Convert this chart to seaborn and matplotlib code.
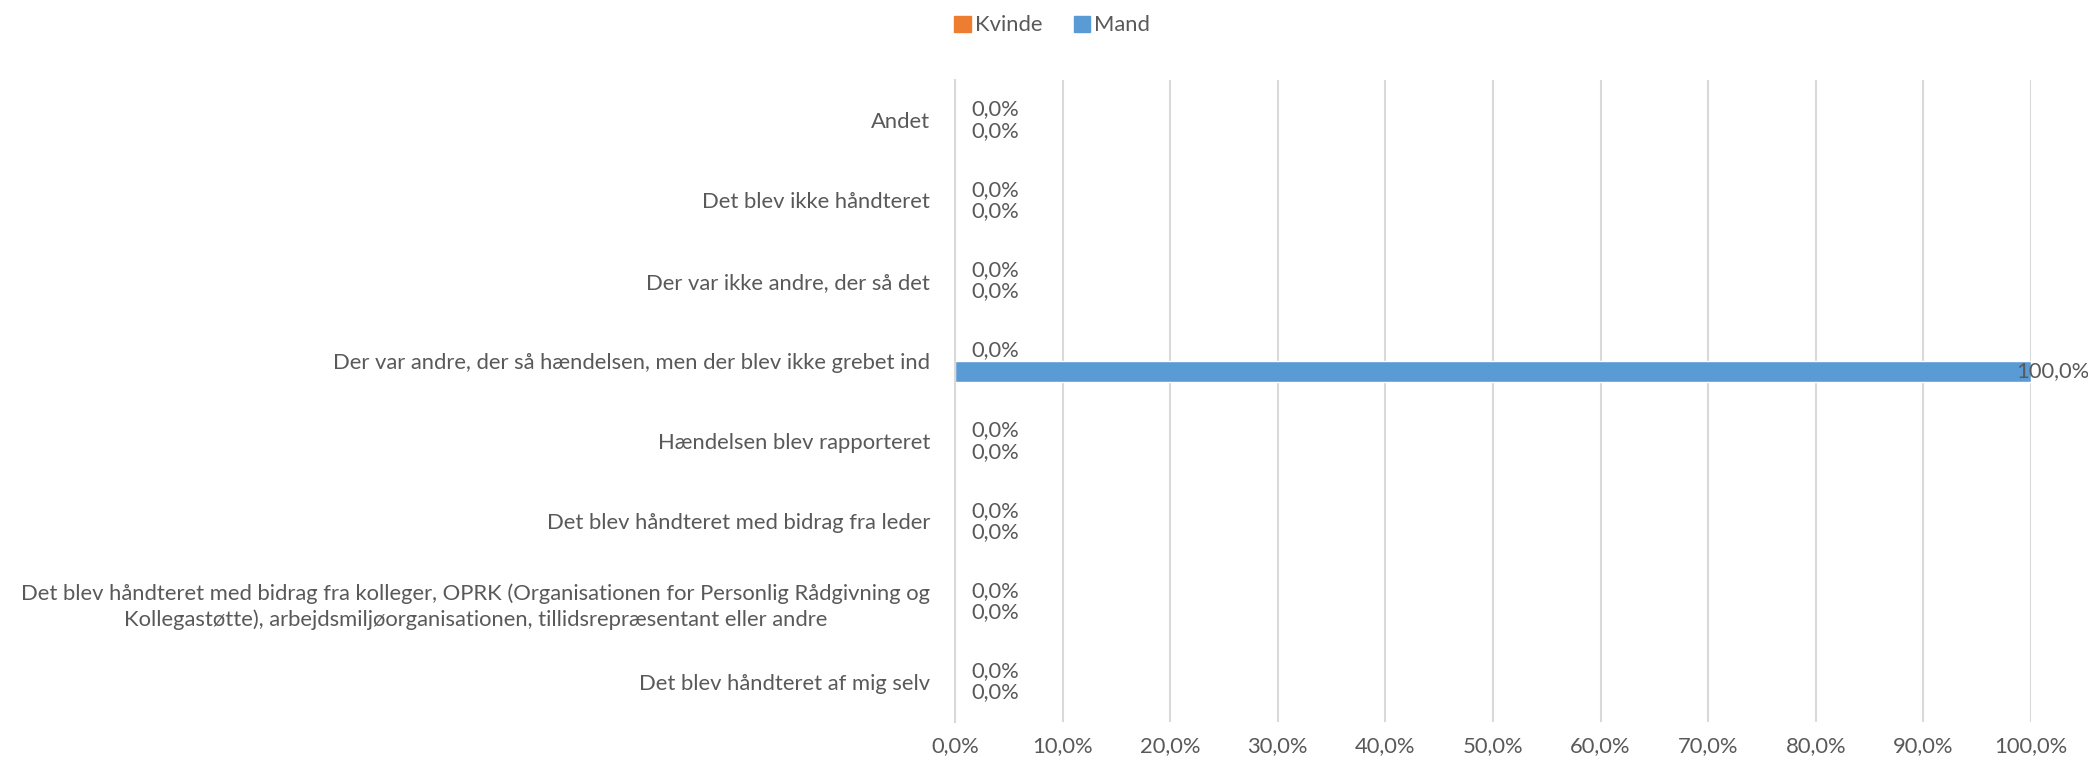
import matplotlib
matplotlib.use("Agg")
import matplotlib.pyplot as plt
import seaborn as sns
import pandas as pd

categories = [
    "Andet",
    "Det blev ikke håndteret",
    "Der var ikke andre, der så det",
    "Der var andre, der så hændelsen, men der blev ikke grebet ind",
    "Hændelsen blev rapporteret",
    "Det blev håndteret med bidrag fra leder",
    "Det blev håndteret med bidrag fra kolleger, OPRK (Organisationen for Personlig Rådgivning og\nKollegastøtte), arbejdsmiljøorganisationen, tillidsrepræsentant eller andre",
    "Det blev håndteret af mig selv",
]
kvinde = [0.0, 0.0, 0.0, 0.0, 0.0, 0.0, 0.0, 0.0]
mand = [0.0, 0.0, 0.0, 100.0, 0.0, 0.0, 0.0, 0.0]
series = ["Kvinde", "Mand"]
colors = ["#ED7D31", "#5B9BD5"]
xticks = [0, 10, 20, 30, 40, 50, 60, 70, 80, 90, 100]

df = pd.DataFrame({
    "Kategori": categories * 2,
    "Køn": ["Kvinde"] * len(categories) + ["Mand"] * len(categories),
    "Andel": kvinde + mand,
})

sns.set_theme(style="white")
plt.rcParams["font.family"] = ["Lato", "DejaVu Sans"]
text_color = "#595959"
fs = 15.8

fig = plt.figure(figsize=(20.88, 7.64), dpi=100)
ax = fig.add_axes([0.4574, 0.055, 0.5153, 0.8403])

sns.barplot(data=df, y="Kategori", x="Andel", hue="Køn", hue_order=series,
            palette=colors, order=categories, orient="h", width=0.53,
            saturation=1, ax=ax, legend=True)

ax.set_xlim(0, 100)
ax.set_xticks(xticks)
ax.set_xticklabels([f"{v:.1f}%".replace(".", ",") for v in xticks],
                   fontsize=fs, color=text_color)
ax.set_xlabel("")
ax.set_ylabel("")
ax.tick_params(axis="y", labelsize=fs, labelcolor=text_color, length=0, pad=18)
ax.tick_params(axis="x", length=0, pad=10)
for lab in ax.get_yticklabels():
    lab.set_multialignment("center")
    lab.set_linespacing(1.35)

ax.grid(axis="x", color="#D9D9D9", linewidth=1.5)
ax.grid(axis="y", visible=False)
ax.set_axisbelow(True)
for s in ["top", "right", "bottom"]:
    ax.spines[s].set_visible(False)
ax.spines["left"].set_color("#D9D9D9")
ax.spines["left"].set_linewidth(1.5)

vals = [kvinde, mand]
for cont, v in zip(ax.containers, vals):
    small = [f"{x:.1f}%".replace(".", ",") if x < 50 else "" for x in v]
    big = [f"{x:.1f}%".replace(".", ",") if x >= 50 else "" for x in v]
    ax.bar_label(cont, labels=small, label_type="edge", padding=12,
                 fontsize=fs, color=text_color)
    ax.bar_label(cont, labels=big, label_type="edge", padding=-11,
                 fontsize=fs, color=text_color)

ax.get_legend().remove()
handles = [plt.Rectangle((0, 0), 1, 1, color=c) for c in colors]
fig.legend(handles, series, loc="center", bbox_to_anchor=(0.504, 0.967), ncol=2,
           frameon=False, fontsize=fs, labelcolor=text_color,
           handlelength=0.75, handleheight=0.75, handletextpad=0.2, columnspacing=1.4)

fig.savefig("out.png", dpi=100)
